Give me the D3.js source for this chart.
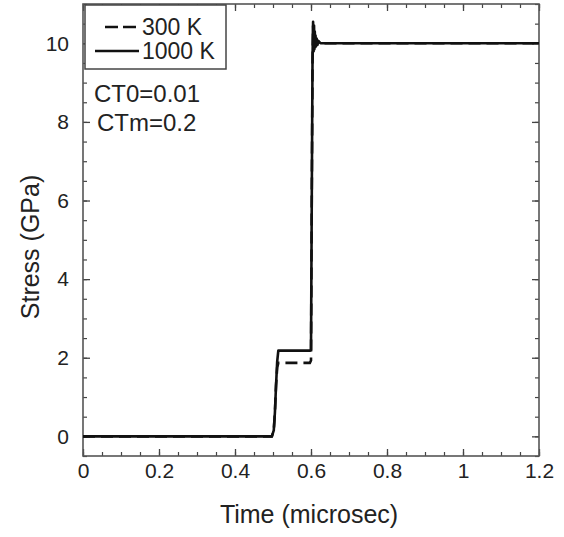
<!DOCTYPE html>
<html>
<head>
<meta charset="utf-8">
<script src="https://cdn.jsdelivr.net/npm/d3@7"></script>
<style>
  body { margin: 0; background: #fff; }
  text { font-family: "Liberation Sans", Arial, sans-serif; fill: #222; }
  .tick line { stroke: #444; }
  .domain { stroke: none; }
</style>
</head>
<body>
<svg width="564" height="537"></svg>
<script>
const svg = d3.select('svg');
const width = +svg.attr('width');
const height = +svg.attr('height');

// time (microsec), stress (GPa)
const time1000 = [0, 0.497, 0.502, 0.505, 0.508, 0.511, 0.514, 0.597, 0.600, 0.602, 0.604, 0.6055, 0.607, 0.608, 0.609, 0.610, 0.611, 0.612, 0.613, 0.615, 0.617, 0.620, 0.625, 1.2];
const stress1000 = [0, 0, 0.15, 0.6, 1.3, 1.9, 2.18, 2.18, 2.2, 6.0, 9.6, 10.55, 9.8, 10.45, 9.85, 10.3, 9.9, 10.2, 9.92, 10.12, 9.96, 10.06, 10.0, 10.0];
const time300 = [0, 0.497, 0.502, 0.505, 0.508, 0.511, 0.514, 0.597, 0.600, 0.602, 0.604, 0.6055, 0.607, 0.609, 0.611, 0.614, 0.620, 1.2];
const stress300 = [0, 0, 0.15, 0.6, 1.3, 1.75, 1.87, 1.87, 1.93, 6.0, 9.5, 10.45, 9.85, 10.25, 9.9, 10.08, 10.0, 10.0];

const xTicks = [0, 0.2, 0.4, 0.6, 0.8, 1, 1.2];
const yTicks = [0, 2, 4, 6, 8, 10];
const legendLabels = ['300 K', '1000 K'];
const notes = ['CT0=0.01', 'CTm=0.2'];

const margin = { top: 4, right: 25, bottom: 81, left: 83 };
const innerWidth = width - margin.left - margin.right;
const innerHeight = height - margin.top - margin.bottom;

const xScale = d3.scaleLinear().domain([0, 1.2]).range([0, innerWidth]);
const yScale = d3.scaleLinear().domain([-0.5, 11]).range([innerHeight, 0]);

const g = svg.append('g')
  .attr('transform', `translate(${margin.left}, ${margin.top})`);

const xMinor = d3.range(0, 1.2001, 0.05);
const yMinor = d3.range(-0.5, 11.001, 0.5);

// tick marks only (no labels) on all four sides
const tickOnly = (axis, tr, size, sw) => {
  const ag = g.append('g').attr('transform', tr)
    .call(axis.tickSize(-size).tickFormat(''));
  ag.selectAll('text').remove();
  ag.selectAll('.tick line').attr('stroke-width', sw);
};
tickOnly(d3.axisBottom(xScale).tickValues(xMinor), `translate(0, ${innerHeight})`, 4, 1.2);
tickOnly(d3.axisTop(xScale).tickValues(xMinor), 'translate(0, 0)', 4, 1.2);
tickOnly(d3.axisLeft(yScale).tickValues(yMinor), 'translate(0, 0)', 4, 1.2);
tickOnly(d3.axisRight(yScale).tickValues(yMinor), `translate(${innerWidth}, 0)`, 4, 1.2);
tickOnly(d3.axisTop(xScale).tickValues(xTicks), 'translate(0, 0)', 7, 1.3);
tickOnly(d3.axisRight(yScale).tickValues(yTicks), `translate(${innerWidth}, 0)`, 7, 1.3);

// labelled major ticks
const xAxisGroup = g.append('g')
  .attr('transform', `translate(0, ${innerHeight})`)
  .call(d3.axisBottom(xScale).tickValues(xTicks).tickSize(-7).tickPadding(7).tickFormat(d3.format('')));
xAxisGroup.selectAll('text').style('font-size', '21px');
xAxisGroup.selectAll('.tick line').attr('stroke-width', 1.3);

const yAxisGroup = g.append('g')
  .call(d3.axisLeft(yScale).tickValues(yTicks).tickSize(-7).tickPadding(14));
yAxisGroup.selectAll('text').style('font-size', '21px');
yAxisGroup.selectAll('.tick line').attr('stroke-width', 1.3);

// frame
g.append('rect')
  .attr('width', innerWidth)
  .attr('height', innerHeight)
  .attr('fill', 'none')
  .attr('stroke', '#555')
  .attr('stroke-width', 1.6);

const line = d3.line()
  .x(d => xScale(d[0]))
  .y(d => yScale(d[1]));

g.append('path')
  .attr('d', line(d3.zip(time1000, stress1000)))
  .attr('fill', 'none')
  .attr('stroke', '#111')
  .attr('stroke-width', 2.6)
  .attr('stroke-linejoin', 'round');

g.append('path')
  .attr('d', line(d3.zip(time300, stress300)))
  .attr('fill', 'none')
  .attr('stroke', '#111')
  .attr('stroke-width', 2.6)
  .attr('stroke-dasharray', '12,6');

// legend
const legend = svg.append('g');
legend.append('rect')
  .attr('x', 85).attr('y', 5)
  .attr('width', 141).attr('height', 64)
  .attr('fill', '#fff')
  .attr('stroke', '#444')
  .attr('stroke-width', 1.5);
legend.append('line')
  .attr('x1', 105).attr('x2', 139).attr('y1', 27).attr('y2', 27)
  .attr('stroke', '#111').attr('stroke-width', 2.6)
  .attr('stroke-dasharray', '13,5');
legend.append('line')
  .attr('x1', 95).attr('x2', 139).attr('y1', 51).attr('y2', 51)
  .attr('stroke', '#111').attr('stroke-width', 2.6);
legend.selectAll('text.lbl')
  .data(legendLabels)
  .join('text')
  .attr('class', 'lbl')
  .attr('x', 142)
  .attr('y', (d, i) => 35 + i * 24)
  .style('font-size', '23px')
  .text(d => d);

svg.selectAll('text.note')
  .data(notes)
  .join('text')
  .attr('class', 'note')
  .attr('x', (d, i) => i === 0 ? 94 : 97)
  .attr('y', (d, i) => 102 + i * 29)
  .style('font-size', '24px')
  .text(d => d);

// axis titles
svg.append('text')
  .attr('x', 309)
  .attr('y', 523)
  .style('text-anchor', 'middle')
  .style('font-size', '25px')
  .text('Time (microsec)');

svg.append('text')
  .attr('transform', 'translate(39, 247) rotate(-90)')
  .style('text-anchor', 'middle')
  .style('font-size', '25px')
  .text('Stress (GPa)');
</script>
</body>
</html>
